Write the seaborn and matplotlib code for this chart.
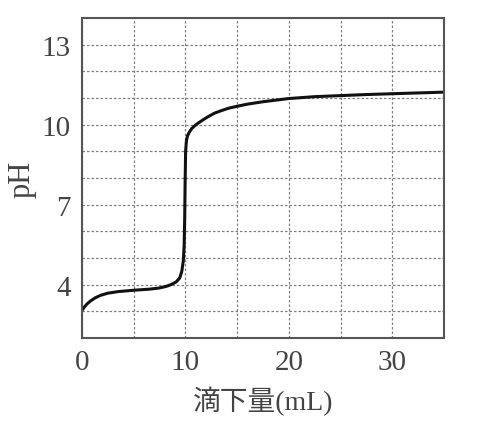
import pandas as pd
import matplotlib
matplotlib.use("Agg")
import matplotlib.pyplot as plt
import seaborn as sns

# Titration curve
volume_ml = [0, 0.25, 0.5, 0.8, 1.25, 1.8, 2.5, 3.5, 5, 6.5, 7.4, 8.1, 8.6,
             9.1, 9.45, 9.65, 9.8, 9.88, 9.93, 9.97, 10.02, 10.1, 10.2, 10.35,
             10.6, 10.9, 11.2, 11.7, 12.2, 12.8, 13.5, 14.2, 15, 16, 17.5, 20,
             22.5, 25, 27.5, 30, 32.5, 35]
ph = [3.04, 3.17, 3.28, 3.38, 3.5, 3.6, 3.68, 3.74, 3.79, 3.83, 3.87, 3.93,
      4.0, 4.1, 4.25, 4.5, 4.9, 5.5, 6.5, 7.8, 9.0, 9.4, 9.58, 9.7, 9.85,
      9.96, 10.05, 10.18, 10.3, 10.43, 10.53, 10.62, 10.69, 10.77, 10.86,
      10.98, 11.05, 11.09, 11.13, 11.16, 11.19, 11.22]

x_ticks = [0, 10, 20, 30]
y_ticks = [4, 7, 10, 13]

df = pd.DataFrame({"volume": volume_ml, "pH": ph})

sns.set_style("white")
plt.rcParams["font.family"] = ["Liberation Serif", "Noto Sans CJK JP", "DejaVu Sans"]

fig = plt.figure(figsize=(4.78, 4.31), dpi=100, facecolor="white")
ax = fig.add_axes([0.1715, 0.2135, 0.7574, 0.7424])

sns.lineplot(data=df, x="volume", y="pH", sort=False, color="#111111",
             linewidth=2.2, ax=ax)

ax.set_xlim(0, 35)
ax.set_ylim(2, 14)

# Grid every 5 mL and every pH unit
ax.set_xticks(range(0, 36, 5), minor=True)
ax.set_yticks(range(3, 14), minor=True)
ax.set_xticks(x_ticks)
ax.set_yticks(y_ticks)
ax.grid(which="both", color="#808080", linestyle=(0, (2, 1.6)), linewidth=0.9)
ax.set_axisbelow(True)

ax.set_xticklabels([str(v) for v in x_ticks])
ax.set_yticklabels([str(v) for v in y_ticks])
ax.tick_params(which="both", length=0, labelsize=21, colors="#444444", pad=8)

ax.set_xlabel("滴下量(mL)", fontsize=20, color="#444444", labelpad=8)
ax.set_ylabel("pH", fontsize=22, color="#444444", labelpad=4)

for spine in ax.spines.values():
    spine.set_visible(True)
    spine.set_color("#555555")
    spine.set_linewidth(1.5)

plt.savefig("out.png", dpi=100, facecolor="white")
